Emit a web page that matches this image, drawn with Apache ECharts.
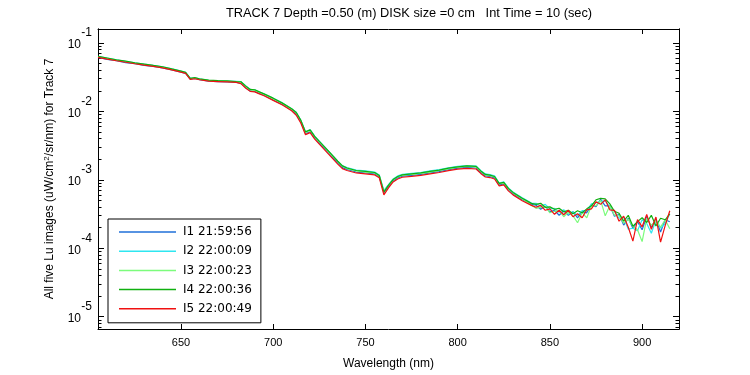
<!DOCTYPE html>
<html><head><meta charset="utf-8">
<script src="https://cdn.jsdelivr.net/npm/echarts@6/dist/echarts.min.js"></script>
<style>html,body{margin:0;padding:0;background:#fff}#c{width:750px;height:375px}</style>
</head><body><div id="c"></div>
<script>
const FONT = '"Liberation Sans", Arial, Helvetica, sans-serif';
const LEGEND_FONT = '"DejaVu Sans", Verdana, sans-serif';
const titleText = 'TRACK 7 Depth =0.50 (m) DISK size =0 cm   Int Time = 10 (sec)';
const xTicks = [650, 700, 750, 800, 850, 900];
const yTicks = [1e-5, 1e-4, 1e-3, 1e-2, 1e-1];
const seriesNames = ['I1 21:59:56', 'I2 22:00:09', 'I3 22:00:23', 'I4 22:00:36', 'I5 22:00:49'];
const seriesColors = ['#1f6fd8', '#2ee6f0', '#7cfc7c', '#10b010', '#f01010'];

const wavelength = [605,610,615,620,625,630,635,640,645,650,652.5,655,657.5,660,665,670,675,680,
682.5,685,687.5,690,692.5,695,700,705,710,712.5,715,717.5,720,722.5,725,730,735,737.5,
740,745,750,755,757.5,760,762.5,765,767.5,770,775,780,785,790,795,800,805,810,812.5,815,817.5,820,822.5,825,827.5,830,835,840,
842.5,845,847.5,850,852.5,855,857.5,860,862.5,865,867.5,870,872.5,875,877.5,880,882.5,885,887.5,890,892.5,895,897.5,900,902.5,905,907.5,910,912.5,915];

const I1 = [0.0617,0.0575,0.0549,0.0517,0.0497,0.0470,0.0455,0.0433,0.0404,0.0374,0.0360,0.0295,0.0302,0.0291,0.0276,0.0271,0.0269,0.0265,
0.0258,0.0224,0.0199,0.0196,0.0183,0.0172,0.0147,0.0126,0.0104,0.00900,0.00700,0.00475,0.00505,0.00410,0.00345,0.00247,0.00176,0.00151,
0.00142,0.00130,0.00126,0.00122,0.00111,0.000650,0.000800,0.000965,0.00107,0.00113,0.00116,0.00120,0.00126,0.00132,0.00141,0.00148,0.00152,0.00149,0.00128,0.00114,0.00112,0.00107,0.000843,0.000872,0.000713,0.000624,0.000511,0.000438,
4.25e-4,3.71e-4,4.10e-4,3.41e-4,3.59e-4,3.04e-4,3.53e-4,3.04e-4,3.42e-4,2.79e-4,3.42e-4,3.30e-4,4.31e-4,4.04e-4,5.18e-4,4.17e-4,4.18e-4,2.94e-4,3.14e-4,2.18e-4,2.74e-4,1.96e-4,2.45e-4,1.87e-4,2.91e-4,2.03e-4,2.67e-4,1.73e-4,2.61e-4,2.44e-4];

const I2 = [0.0638,0.0601,0.0568,0.0540,0.0514,0.0490,0.0470,0.0448,0.0418,0.0387,0.0372,0.0305,0.0310,0.0300,0.0285,0.0282,0.0278,0.0274,
0.0272,0.0237,0.0210,0.0206,0.0192,0.0181,0.0155,0.0133,0.0109,0.00970,0.00741,0.00505,0.00540,0.00434,0.00367,0.00263,0.00188,0.00161,
0.00151,0.00139,0.00135,0.00130,0.00118,0.000700,0.000850,0.00103,0.00114,0.00120,0.00124,0.00128,0.00135,0.00141,0.00150,0.00158,0.00162,0.00159,0.00137,0.00122,0.00119,0.00114,0.000900,0.000932,0.000762,0.000666,0.000546,0.000458,
4.54e-4,4.10e-4,4.39e-4,3.77e-4,3.83e-4,3.36e-4,3.65e-4,3.14e-4,3.42e-4,2.99e-4,3.54e-4,3.53e-4,4.46e-4,4.62e-4,4.85e-4,4.93e-4,4.04e-4,3.47e-4,2.75e-4,2.84e-4,1.90e-4,1.96e-4,1.81e-4,2.61e-4,2.31e-4,1.66e-4,2.59e-4,1.97e-4,2.28e-4,3.19e-4];

const I3 = [0.0628,0.0591,0.0558,0.0531,0.0505,0.0482,0.0463,0.0440,0.0411,0.0380,0.0366,0.0300,0.0305,0.0295,0.0281,0.0278,0.0274,0.0270,
0.0267,0.0231,0.0206,0.0203,0.0189,0.0177,0.0152,0.0130,0.0107,0.00948,0.00725,0.00494,0.00528,0.00424,0.00359,0.00257,0.00184,0.00158,
0.00146,0.00135,0.00130,0.00126,0.00114,0.000680,0.000830,0.00100,0.00110,0.00117,0.00120,0.00124,0.00130,0.00137,0.00145,0.00153,0.00157,0.00154,0.00133,0.00118,0.00115,0.00110,0.000871,0.000901,0.000738,0.000645,0.000528,0.000424,
3.84e-4,3.97e-4,4.10e-4,3.30e-4,3.47e-4,3.59e-4,2.89e-4,3.36e-4,2.99e-4,2.36e-4,3.31e-4,2.79e-4,4.17e-4,4.18e-4,5.01e-4,2.98e-4,4.18e-4,3.04e-4,3.04e-4,2.33e-4,2.65e-4,2.10e-4,1.87e-4,1.25e-4,2.73e-4,2.17e-4,2.50e-4,2.04e-4,2.61e-4,1.93e-4];

const I4 = [0.0636,0.0603,0.0566,0.0541,0.0512,0.0491,0.0469,0.0449,0.0417,0.0388,0.0371,0.0304,0.0311,0.0299,0.0286,0.0281,0.0279,0.0273,
0.0271,0.0236,0.0209,0.0207,0.0193,0.0180,0.0156,0.0132,0.0109,0.00965,0.00738,0.00502,0.00538,0.00432,0.00365,0.00262,0.00187,0.00160,
0.00149,0.00137,0.00133,0.00128,0.00116,0.000660,0.000835,0.00101,0.00112,0.00118,0.00122,0.00126,0.00133,0.00139,0.00148,0.00155,0.00160,0.00157,0.00135,0.00120,0.00117,0.00112,0.000886,0.000916,0.000750,0.000655,0.000537,0.000453,
4.39e-4,4.54e-4,3.97e-4,4.03e-4,3.71e-4,3.84e-4,3.41e-4,3.59e-4,3.20e-4,3.53e-4,3.31e-4,3.77e-4,4.17e-4,5.11e-4,5.36e-4,5.27e-4,4.46e-4,3.47e-4,3.25e-4,2.49e-4,3.03e-4,2.10e-4,2.45e-4,2.79e-4,2.38e-4,3.03e-4,2.12e-4,2.75e-4,2.61e-4,3.19e-4];

const I5 = [0.0617,0.0581,0.0549,0.0522,0.0497,0.0474,0.0455,0.0433,0.0404,0.0374,0.0360,0.0293,0.0300,0.0290,0.0276,0.0273,0.0269,0.0265,
0.0254,0.0220,0.0196,0.0193,0.0180,0.0169,0.0145,0.0124,0.0102,0.00878,0.00671,0.00457,0.00489,0.00393,0.00332,0.00238,0.00170,0.00146,
0.00137,0.00126,0.00122,0.00118,0.00107,0.000603,0.000763,0.000932,0.00103,0.00109,0.00112,0.00116,0.00122,0.00128,0.00136,0.00143,0.00147,0.00144,0.00124,0.00110,0.00108,0.00103,0.000815,0.000843,0.000690,0.000603,0.000494,0.000424,
3.97e-4,4.24e-4,3.59e-4,3.77e-4,3.14e-4,3.59e-4,3.09e-4,3.59e-4,2.89e-4,3.20e-4,2.80e-4,3.65e-4,3.77e-4,4.77e-4,4.39e-4,5.10e-4,3.65e-4,3.59e-4,2.49e-4,2.94e-4,2.03e-4,1.27e-4,2.62e-4,2.06e-4,3.12e-4,1.90e-4,2.86e-4,1.23e-4,2.14e-4,3.53e-4];

const allSeries = [I1, I2, I3, I4, I5];

const X_MIN = 605, X_MAX = 920;
const Y_MIN = 6.62e-6, Y_MAX = 0.1598;
// minor log ticks (2..9 x 10^n) inside the visible range
const yMinor = [];
for (let e = -6; e <= -1; e++) {
  for (let k = 2; k <= 9; k++) {
    const v = k * Math.pow(10, e);
    if (v > Y_MIN && v < Y_MAX) yMinor.push(v);
  }
}

const black = '#000';
function yAx(pos, ticks, len, showLabel, name) {
  const ax = {
    type: 'log', logBase: 10, min: Y_MIN, max: Y_MAX, position: pos,
    axisLine: { show: true, lineStyle: { color: black, width: 1 } },
    axisTick: { show: true, inside: true, length: len, customValues: ticks, lineStyle: { color: black } },
    axisLabel: { show: showLabel },
    splitLine: { show: false }
  };
  if (showLabel) {
    ax.axisLabel = {
      show: true, customValues: yTicks, margin: 6, color: black, fontFamily: FONT,
      padding: [0, 0, 6, 0],
      formatter: function (v) { return '{e|' + Math.round(Math.log10(v)) + '}\n{b|10}{p| }'; },
      rich: {
        b: { fontSize: 12, lineHeight: 14, color: black, fontFamily: FONT },
        p: { fontSize: 12, lineHeight: 14, width: 11 },
        e: { fontSize: 12, lineHeight: 10, color: black, fontFamily: FONT, align: 'right' }
      }
    };
  }
  if (name) {
    ax.name = name;
    ax.nameLocation = 'middle';
    ax.nameGap = 30;
    ax.nameTextStyle = {
      color: black, fontFamily: FONT,
      rich: {
        a: { fontSize: 12, lineHeight: 14, color: black, fontFamily: FONT },
        s: { fontSize: 8, lineHeight: 10, color: black, fontFamily: FONT, padding: [0, 0, 6, 0] }
      }
    };
  }
  return ax;
}
function xAx(pos, showLabel) {
  const ax = {
    type: 'value', min: X_MIN, max: X_MAX, position: pos,
    axisLine: { show: true, onZero: false, lineStyle: { color: black, width: 1 } },
    axisTick: { show: true, inside: true, length: 5, customValues: xTicks, lineStyle: { color: black } },
    axisLabel: { show: false },
    splitLine: { show: false }
  };
  if (showLabel) {
    ax.axisLabel = { show: true, customValues: xTicks, margin: 8, color: black, fontSize: 11, fontFamily: FONT };
    ax.name = 'Wavelength (nm)';
    ax.nameLocation = 'middle';
    ax.nameGap = 29;
    ax.nameTextStyle = { color: black, fontSize: 12, fontFamily: FONT };
  }
  return ax;
}

const chart = echarts.init(document.getElementById('c'), null, { renderer: 'canvas' });
chart.setOption({
  animation: false,
  backgroundColor: '#fff',
  textStyle: { fontFamily: FONT },
  title: {
    text: titleText, left: 226, top: 7, padding: 0,
    textStyle: { fontSize: 12.8, fontWeight: 'normal', color: black, fontFamily: FONT }
  },
  grid: { left: 98, right: 71, top: 29, bottom: 44, containLabel: false },
  xAxis: [xAx('bottom', true), xAx('top', false)],
  yAxis: [
    yAx('left', yTicks, 6, true, '{a|All five Lu images (uW/cm}{s|2}{a|/sr/nm) for Track 7}'),
    yAx('right', yTicks, 6, false),
    yAx('left', yMinor, 3.5, false),
    yAx('right', yMinor, 3.5, false)
  ],
  legend: {
    orient: 'vertical', left: 108, top: 219,
    itemWidth: 57, itemHeight: 1.5, itemGap: 5.2, icon: 'rect',
    padding: [6, 9, 7, 11],
    borderColor: black, borderWidth: 1, backgroundColor: '#fff',
    textStyle: { fontSize: 12, lineHeight: 14, color: black, fontFamily: LEGEND_FONT, padding: [0, 0, 0, 2] },
    data: seriesNames
  },
  series: allSeries.map(function (arr, i) {
    return {
      name: seriesNames[i], type: 'line', xAxisIndex: 0, yAxisIndex: 0,
      data: wavelength.map(function (w, j) { return [w, arr[j]]; }),
      showSymbol: false, symbol: 'none',
      lineStyle: { color: seriesColors[i], width: 1.2 },
      itemStyle: { color: seriesColors[i] },
      emphasis: { disabled: true }
    };
  })
});
</script></body></html>
